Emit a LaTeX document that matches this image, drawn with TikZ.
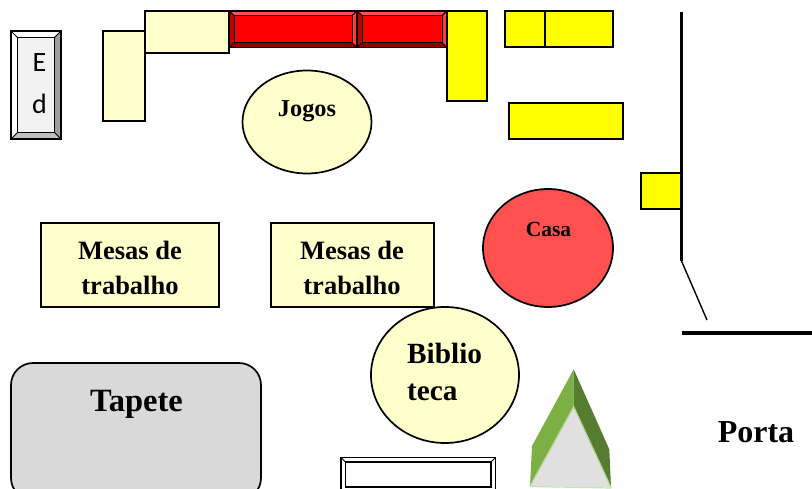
\documentclass[tikz,border=0pt]{standalone}
\usepackage{fontspec}
\setmainfont{Liberation Serif}
\newfontfamily\edfont{Carlito}
\definecolor{cream}{HTML}{FFFFCC}
\definecolor{gelb}{HTML}{FFFF00}
\definecolor{tomato}{HTML}{FF5050}
\definecolor{redlight}{HTML}{FF3838}
\definecolor{reddark}{HTML}{C00000}
\definecolor{reddeep}{HTML}{8C0000}
\definecolor{tapete}{HTML}{D9D9D9}
\definecolor{leafl}{HTML}{7CB044}
\definecolor{leafd}{HTML}{567C30}
\tikzset{
  outl/.style={draw=black,line width=1.7pt,line join=miter},
  creambox/.style={outl,fill=cream},
  gelbbox/.style={outl,fill=gelb},
  lab/.style={font=\bfseries,inner sep=0pt,align=center},
  wall/.style={line width=3.6pt},
  bev/.style={draw=black,line width=1pt}
}
% \redbench{x0}{x1}: bevelled red bench between y=11 and y=47.5
\newcommand{\redbench}[2]{%
  \fill[tomato] (#1,11) -- (#2,11) -- (#2-5,15.5) -- (#1+5,15.5) -- cycle;
  \fill[reddark] (#1,11) -- (#1+5,15.5) -- (#1+5,43) -- (#1,47.5) -- cycle;
  \fill[redlight] (#2,11) -- (#2-5,15.5) -- (#2-5,43) -- (#2,47.5) -- cycle;
  \fill[reddeep] (#1,47.5) -- (#2,47.5) -- (#2-5,43) -- (#1+5,43) -- cycle;
  \draw[bev,fill=red] (#1+5,15.5) rectangle (#2-5,43);
  \draw[bev] (#1,11) -- (#1+5,15.5) (#2,11) -- (#2-5,15.5) (#1,47.5) -- (#1+5,43) (#2,47.5) -- (#2-5,43);
  \draw[outl] (#1,11) rectangle (#2,47.5);
}
\begin{document}
\begin{tikzpicture}[x=1pt,y=-1pt]
\useasboundingbox (0,0) rectangle (812,489);
% Ed
\fill[white] (11,31) rectangle (61,139);
\fill[black!25] (11,139) -- (61,139) -- (54.5,132.5) -- (17.5,132.5) -- cycle;
\fill[black!38] (61,31) -- (61,139) -- (54.5,132.5) -- (54.5,37.5) -- cycle;
\draw[bev,fill=black!5] (17.5,37.5) rectangle (54.5,132.5);
\draw[bev] (11,31) -- (17.5,37.5) (61,31) -- (54.5,37.5) (11,139) -- (17.5,132.5) (61,139) -- (54.5,132.5);
\draw[outl] (11,31) rectangle (61,139);
\node[font=\edfont\fontsize{28}{28}\selectfont,inner sep=0pt] (e) at (39.5,62.5) {E};
\node[font=\edfont\fontsize{28}{28}\selectfont,inner sep=0pt] (d) at (39.5,104) {d};
% cream top
\draw[creambox] (103,31) rectangle (145,121);
\draw[creambox] (145,11) rectangle (229,53);
% red
\redbench{229}{357}
\redbench{357}{447}
% yellow
\draw[gelbbox] (447,11) rectangle (487,101);
\draw[gelbbox] (505,11) rectangle (545,47);
\draw[gelbbox] (545,11) rectangle (613,47);
\draw[gelbbox] (509,103) rectangle (623,139);
\draw[gelbbox] (641,173) rectangle (681,209);
% ellipses
\draw[creambox] (307,122) ellipse [x radius=64.5,y radius=51.5];
\node[lab,font=\bfseries\fontsize{24.3}{24.3}\selectfont] (jogos) at (307,111) {Jogos};
\draw[outl,fill=tomato] (548,248) ellipse [x radius=65,y radius=59];
\node[lab,font=\bfseries\fontsize{21.5}{21.5}\selectfont] (casa) at (548.5,229) {Casa};
% mesas
\draw[creambox] (41,223) rectangle (219,307);
\draw[creambox] (271,223) rectangle (434,307);
\node[lab,font=\bfseries\fontsize{26.5}{35}\selectfont] (m1) at (130,268) {Mesas de\\trabalho};
\node[lab,font=\bfseries\fontsize{26.5}{35}\selectfont] (m2) at (352,268) {Mesas de\\trabalho};
% biblioteca
\draw[creambox] (445,375) ellipse [x radius=74,y radius=68];
\node[lab,font=\bfseries\fontsize{29.3}{29}\selectfont,anchor=west] (bib) at (407,353.5) {Biblio};
\node[lab,font=\bfseries\fontsize{29.3}{29}\selectfont,anchor=west] (teca) at (407,392) {teca};
% tapete
\draw[outl,fill=tapete,rounded corners=22pt] (11,363) rectangle (261,500);
\node[lab,font=\bfseries\fontsize{32.5}{33}\selectfont] (tap) at (136.5,404.5) {Tapete};
% bottom box
\draw[bev,line width=1.4pt,fill=white] (341,457.5) rectangle (495.5,495);
\draw[bev,line width=1.4pt,fill=white] (345.5,462) rectangle (491,487);
\draw[bev] (341,457.5) -- (345.5,462) (495.5,457.5) -- (491,462);
% tree
\fill[leafl] (573.7,369.3) -- (532,446) -- (530,486) -- (573.7,406.7) -- cycle;
\fill[leafd] (573.7,369.3) -- (609.3,449.3) -- (611,487.3) -- (573.7,406.7) -- cycle;
\fill[black!12] (573.7,406.7) -- (530,486) -- (611,487.3) -- cycle;
\draw[leafl!55!white,line width=1.2pt] (530,486) -- (573.7,406.7) -- (611,487.3);
\draw[leafl!40!white,line width=1.2pt] (530,486.5) -- (611,488);
% walls
\coordinate (w1) at (681.5,12);
\coordinate (w2) at (681.5,261);
\coordinate (w3) at (707,320);
\coordinate (w4) at (682,333);
\coordinate (w5) at (812,333);
\draw[wall] (w1) -- (w2);
\draw[line width=1.4pt] (w2) -- (w3);
\draw[wall] (w4) -- (w5);
\node[lab,font=\bfseries\fontsize{32}{32}\selectfont] (porta) at (756,432.5) {Porta};
\end{tikzpicture}
\end{document}
